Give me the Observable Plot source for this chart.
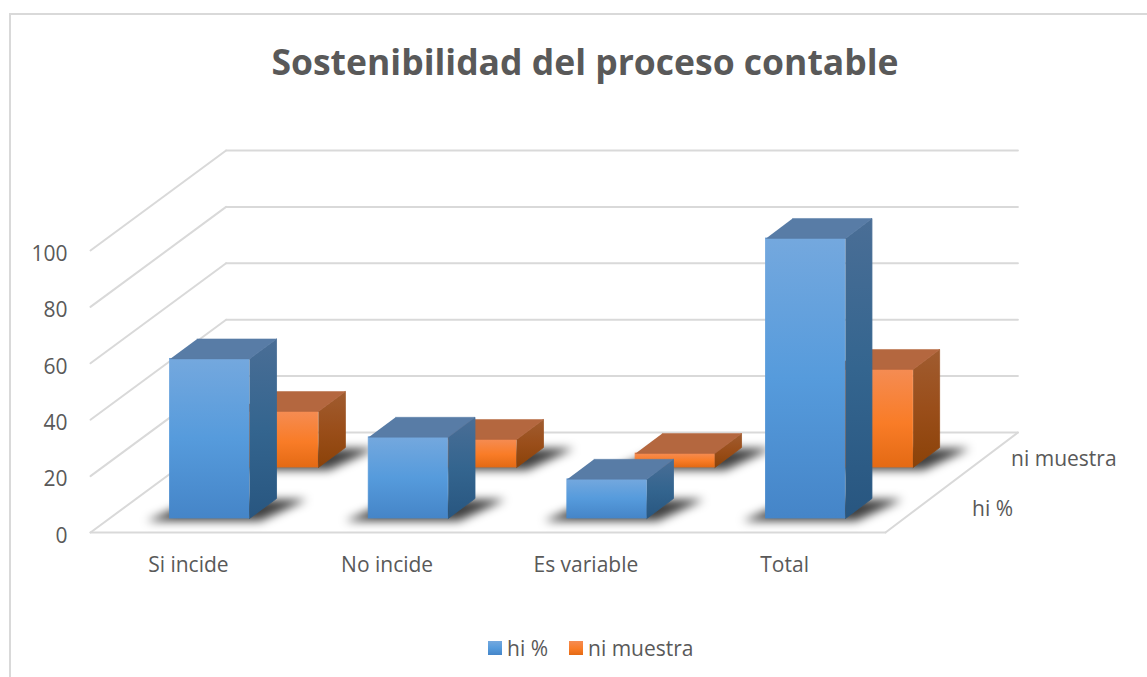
<!DOCTYPE html>
<html><head><meta charset="utf-8">
<script src="https://cdn.jsdelivr.net/npm/d3@7"></script>
<script src="https://cdn.jsdelivr.net/npm/@observablehq/plot@0.6"></script>
<style>
html,body{margin:0;padding:0;background:#fff;}
body{width:1147px;height:677px;overflow:hidden;font-family:"Open Sans",sans-serif;color:#595959;}
#frame{position:absolute;left:9px;top:13px;right:-10px;bottom:-10px;border-left:2px solid #d9d9d9;border-top:2px solid #d9d9d9;pointer-events:none;}
#title{height:110px;box-sizing:border-box;padding-top:37px;width:1170px;text-align:center;font-weight:700;font-size:35.5px;line-height:48px;color:#595959;}
#chart{height:510px;}
#chart svg{display:block;overflow:visible;}
#legend{height:57px;display:flex;align-items:center;font-size:21px;padding-left:488px;box-sizing:border-box;margin-top:-1px}
.sw{width:14px;height:14px;display:inline-block;margin-right:5px}
.it{display:flex;align-items:center;margin-right:21px;line-height:20px}
</style></head><body>
<div id="frame"></div>
<div id="title">Sostenibilidad del proceso contable</div>
<div id="chart"></div>
<div id="legend"></div>
<script>
const categories = ["Si incide", "No incide", "Es variable", "Total"];
const hiValues = [57, 29, 14, 100];
const niValues = [20, 10, 5, 35];
const seriesNames = ["hi %", "ni muestra"];
const yTicks = [0, 20, 40, 60, 80, 100];

// Oblique projection of (category position, depth 0..1, value) into the x and y scale domains
const depthX = 134 / 198.75, depthY = 100 / 2.82, perspective = 0.004;
const projX = (c, z) => c + z * depthX + (2 - c) * z * perspective;
const projY = (v, z) => v + z * depthY;
const pt = (id, c, z, v) => ({id, x: projX(c, z), y: projY(v, z)});

const barHalf = 0.2, barShift = 0.005, barDepth = 0.2, barScale = 0.993;
const rows = [
  {name: "ni muestra", values: niValues, z0: 0.65, key: "o"},
  {name: "hi %", values: hiValues, z0: 0.14, key: "b"}
];

const wall = [];
for (const v of yTicks) {
  wall.push(pt("b" + v, 0, 1, v), pt("b" + v, 4, 1, v));
  wall.push(pt("s" + v, 0, 0, v), pt("s" + v, 0, 1, v));
}
wall.push(pt("ff", 0, 0, 0), pt("ff", 4, 0, 0), pt("fr", 4, 0, 0), pt("fr", 4, 1, 0));

function faces(row) {
  const front = [], side = [], top = [], shadow = [];
  row.values.forEach((val, i) => {
    const c = i + 0.5 + barShift, l = c - barHalf, r = c + barHalf, z0 = row.z0, z1 = z0 + barDepth, v = val * barScale;
    front.push({x1: projX(l, z0), x2: projX(r, z0), y1: projY(0, z0), y2: projY(v, z0)});
    side.push(pt("s" + i, r, z0, 0), pt("s" + i, r, z1, 0), pt("s" + i, r, z1, v), pt("s" + i, r, z0, v));
    top.push(pt("t" + i, l, z0, v), pt("t" + i, r, z0, v), pt("t" + i, r, z1, v), pt("t" + i, l, z1, v));
    shadow.push(
      pt("h" + i, l - 0.1, z0 - 0.025, 0), pt("h" + i, r + 0.07, z0 - 0.025, 0),
      pt("h" + i, r + 0.16, z1 - 0.01, 0), pt("h" + i, l, z1 - 0.01, 0));
  });
  return {front, side, top, shadow};
}

const gradient = (id, stops) =>
  `<linearGradient id="${id}" x1="0" y1="0" x2="0" y2="1">` +
  stops.map(([o, c]) => `<stop offset="${o}" stop-color="${c}"/>`).join("") + `</linearGradient>`;

const defsMark = () => {
  const g = d3.create("svg:defs");
  g.html(
    gradient("bFront", [[0, "#74a8de"], [0.5, "#569bdc"], [1, "#4585c8"]]) +
    gradient("bSide", [[0, "#4a6e96"], [0.5, "#34658f"], [1, "#285680"]]) +
    gradient("oFront", [[0, "#f58c53"], [0.55, "#f97c27"], [1, "#e46a14"]]) +
    gradient("oSide", [[0, "#a05c30"], [0.5, "#9a4e1a"], [1, "#8b4208"]]));
  return g.node();
};

const topColors = {b: "#587ca6", o: "#b4673f"};
const rowMarks = rows.flatMap(row => {
  const f = faces(row);
  return [
    Plot.line(f.shadow, {x: "x", y: "y", z: "id", fill: "#000", fillOpacity: 0.75, stroke: "none", imageFilter: "blur(5px)"}),
    Plot.rect(f.front, {x1: "x1", x2: "x2", y1: "y1", y2: "y2", fill: `url(#${row.key}Front)`, stroke: `url(#${row.key}Front)`, strokeWidth: 0.8}),
    Plot.line(f.side, {x: "x", y: "y", z: "id", fill: `url(#${row.key}Side)`, stroke: `url(#${row.key}Side)`, strokeWidth: 0.8}),
    Plot.line(f.top, {x: "x", y: "y", z: "id", fill: topColors[row.key], stroke: topColors[row.key], strokeWidth: 0.5})
  ];
});

const fontFamily = '"Open Sans", sans-serif';
const depthLabel = (label, z, dx) =>
  Plot.text([{label, x: projX(4, z), y: projY(0, z)}], {x: "x", y: "y", text: "label", dx, dy: 2, fill: "#595959", fontSize: 21});

const plot = Plot.plot({
  width: 1147, height: 510,
  marginLeft: 90, marginRight: 262, marginTop: 140, marginBottom: 88,
  style: {fontFamily, fontSize: "21px", background: "transparent", color: "#595959", overflow: "visible"},
  x: {domain: [0, 4]},
  y: {domain: [0, 100]},
  marks: [
    defsMark,
    Plot.line(wall, {x: "x", y: "y", z: "id", stroke: "#d9d9d9", strokeWidth: 2}),
    ...rowMarks,
    Plot.axisY({ticks: yTicks, tickSize: 0, tickPadding: 23, label: null, fill: "#595959", fontSize: 21, dy: 3.5}),
    Plot.axisX({ticks: categories.map((d, i) => i + 0.5), tickFormat: d => categories[d - 0.5], tickSize: 0, tickPadding: 25, label: null, fill: "#595959", fontSize: 21, dx: -1.5}),
    depthLabel(seriesNames[0], 0.25, 74),
    depthLabel(seriesNames[1], 0.75, 79)
  ]
});
document.getElementById("chart").append(plot);

const legend = document.getElementById("legend");
seriesNames.forEach((name, i) => {
  const it = document.createElement("span"); it.className = "it";
  const sw = document.createElement("span"); sw.className = "sw";
  sw.style.background = i === 0 ? "linear-gradient(#74a8de,#569bdc 50%,#4585c8)" : "linear-gradient(#f58c53,#f97c27 55%,#e46a14)";
  it.append(sw, name);
  legend.append(it);
});
</script>
</body></html>
